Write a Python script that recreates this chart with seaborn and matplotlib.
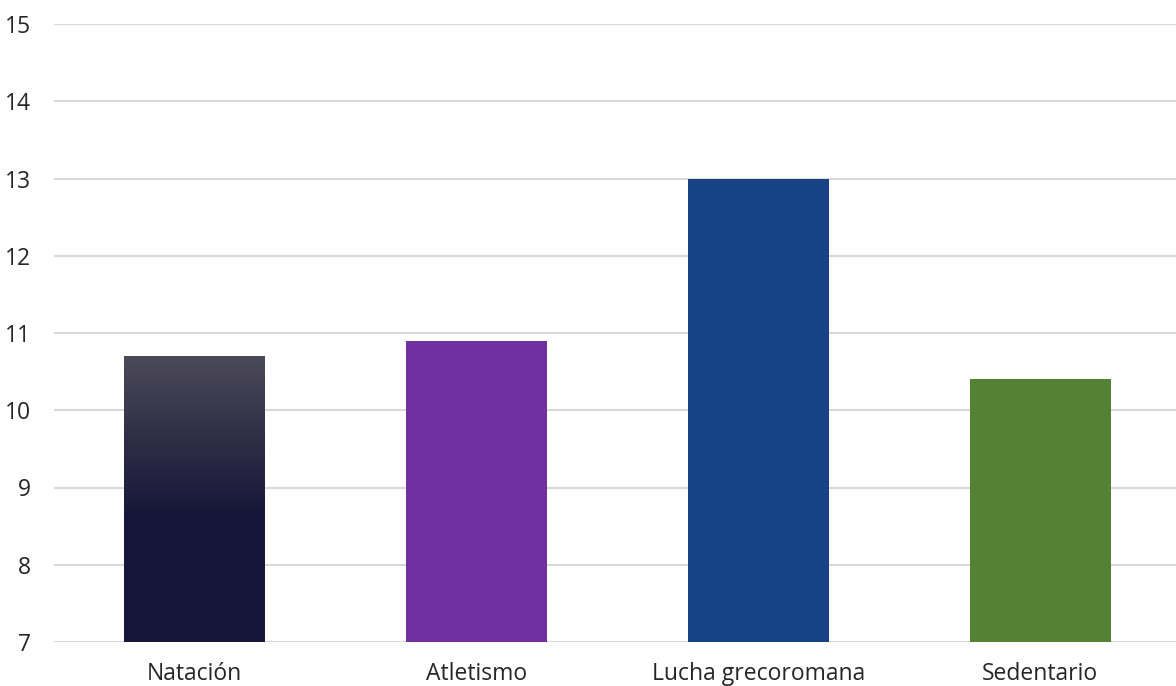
import numpy as np
import matplotlib
matplotlib.use("Agg")
import matplotlib.pyplot as plt
import matplotlib.colors as mcolors
import seaborn as sns
import pandas as pd

categories = ["Natación", "Atletismo", "Lucha grecoromana", "Sedentario"]
values = [10.7, 10.9, 13.0, 10.4]
bar_colors = ["#16163a", "#7030a0", "#174384", "#548235"]
y_ticks = [7, 8, 9, 10, 11, 12, 13, 14, 15]

sns.set_theme(style="white")
plt.rcParams["font.family"] = ["Open Sans", "DejaVu Sans"]

df = pd.DataFrame({"cat": categories, "val": values})

fig = plt.figure(figsize=(11.76, 6.86), dpi=100)
ax = fig.add_axes([53.5 / 1176, 44 / 686, (1181 - 53.5) / 1176, (642 - 24) / 686])

sns.barplot(data=df, x="cat", y="val", hue="cat", palette=bar_colors,
            width=0.5, legend=False, ax=ax, zorder=3, saturation=1,
            linewidth=0)
ax.set_ylim(7, 15)
ax.set_xlim(-0.5, 3.5)
ax.set_yticks(y_ticks)
ax.yaxis.grid(True, color="#d9d9d9", linewidth=1.5, zorder=0)
ax.set_axisbelow(True)
for s in ax.spines.values():
    s.set_visible(False)
ax.set_xlabel("")
ax.set_ylabel("")
ax.tick_params(axis="y", length=0, pad=16, labelsize=16.5, labelcolor="#262626")
ax.tick_params(axis="x", length=0, pad=14.5, labelsize=16.5, labelcolor="#262626")

# vertical gradient fill on the first bar
patch = ax.patches[0]
x0, w = patch.get_x(), patch.get_width()
h = patch.get_height()
cmap = mcolors.LinearSegmentedColormap.from_list(
    "grad", [(0.0, "#16163a"), (0.45, "#17173a"), (0.7, "#2f2d45"), (1.0, "#4b4a59")])
grad = np.linspace(0, 1, 256).reshape(-1, 1)
im = ax.imshow(grad, extent=[x0, x0 + w, 7, h], origin="lower", aspect="auto",
               cmap=cmap, zorder=4)
im.set_clip_path(patch)
ax.set_xlim(-0.5, 3.5)
ax.set_ylim(7, 15)

fig.savefig("out.png", dpi=100)
